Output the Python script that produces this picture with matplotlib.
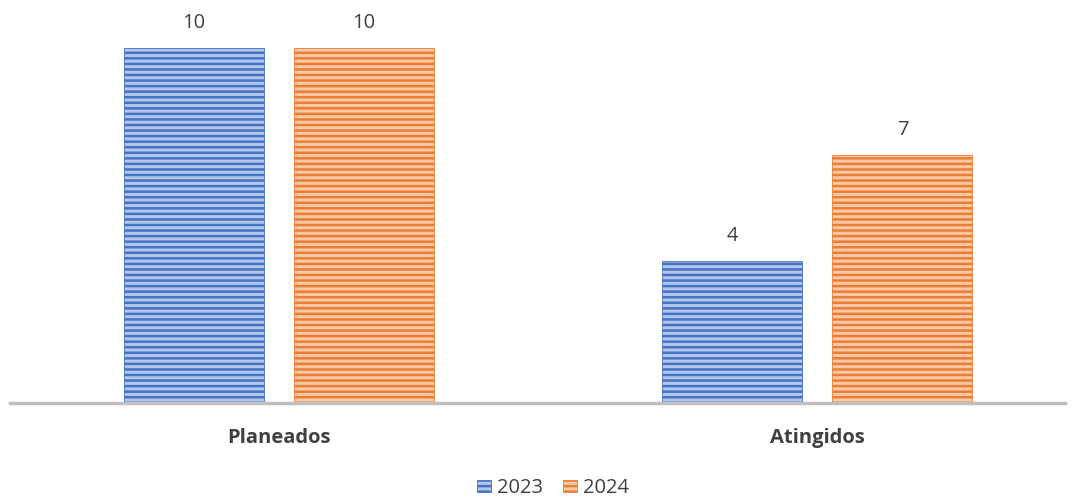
import numpy as np
import matplotlib
matplotlib.use("Agg")
import matplotlib.pyplot as plt
from matplotlib.patches import Patch

# Data
categories = ["Planeados", "Atingidos"]
years = ["2023", "2024"]
values_2023 = [10, 4]
values_2024 = [10, 7]

COLORS = {"2023": "#4472C4", "2024": "#ED7D31"}
FACES = {"2023": "#B4C7EA", "2024": "#F8C9A8"}
TEXT_COLOR = "#404040"

plt.rcParams["font.family"] = ["Open Sans", "DejaVu Sans"]
plt.rcParams["hatch.linewidth"] = 1.8

fig = plt.figure(figsize=(10.75, 4.97), dpi=100)
ax = fig.add_axes([10 / 1075, (497 - 403) / 497, 1055 / 1075, (403 - 20) / 497])

x = np.arange(len(categories))
width = 0.26
offset = 0.158

for vals, year, off in [(values_2023, "2023", -offset), (values_2024, "2024", offset)]:
    bars = ax.bar(x + off, vals, width, facecolor=FACES[year], edgecolor=COLORS[year],
                  hatch="---", linewidth=0.6)
    for b, v in zip(bars, vals):
        ax.text(b.get_x() + b.get_width() / 2, v + 0.42, str(v), ha="center", va="bottom",
                fontsize=14.5, color=TEXT_COLOR)

ax.set_xlim(-0.5, 1.46)
ax.set_ylim(0, 10.79)

# Styling
for side in ["top", "right", "left"]:
    ax.spines[side].set_visible(False)
ax.spines["bottom"].set_color("#BFBFBF")
ax.spines["bottom"].set_linewidth(2.5)
ax.set_yticks([])
ax.set_xticks(x)
ax.set_xticklabels(categories, fontsize=14.5, fontweight="bold", color=TEXT_COLOR)
ax.tick_params(axis="x", length=0, pad=18)

handles = [Patch(facecolor=FACES[y], edgecolor=COLORS[y], hatch="---", linewidth=0.6, label=y)
           for y in years]
fig.legend(handles=handles, loc="center", bbox_to_anchor=(553 / 1075, 1 - 488 / 497), ncol=2,
           frameon=False, fontsize=14.5, labelcolor=TEXT_COLOR, handlelength=0.7,
           handleheight=0.55, handletextpad=0.3, columnspacing=0.95)

fig.savefig("out.png", dpi=100)
